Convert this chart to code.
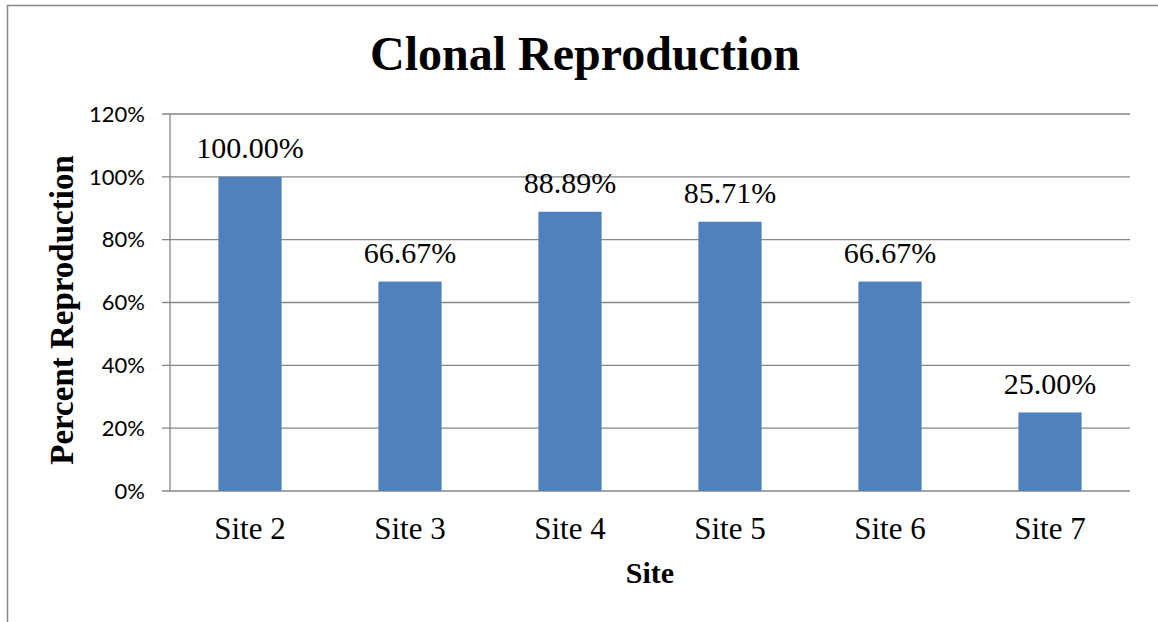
<!DOCTYPE html>
<html>
<head>
<meta charset="utf-8">
<script src="https://cdn.jsdelivr.net/npm/d3@7"></script>
<style>
  body { margin: 0; background: #fff; }
</style>
</head>
<body>
<div id="chart"></div>
<script>
// chart data
const sites = ['Site 2', 'Site 3', 'Site 4', 'Site 5', 'Site 6', 'Site 7']
const reproduction = [1.0, 0.6667, 0.8889, 0.8571, 0.6667, 0.25]
const yTicks = [0, 0.2, 0.4, 0.6, 0.8, 1.0, 1.2]

const width = 1158
const height = 622
const margin = { top: 114, right: 28, bottom: 131, left: 170 }
const serif = '"Liberation Serif", "Times New Roman", serif'
const gridColor = '#868686'

const svg = d3
  .select('#chart')
  .append('svg')
  .attr('width', width)
  .attr('height', height)

// outer frame (only top and left edges fall inside the picture)
svg
  .append('rect')
  .attr('x', 7.5)
  .attr('y', 5.5)
  .attr('width', width + 20)
  .attr('height', height + 20)
  .attr('fill', 'none')
  .attr('stroke', gridColor)
  .attr('stroke-width', 1.5)

const x = d3
  .scaleBand()
  .domain(sites)
  .range([margin.left, width - margin.right])
  .paddingInner(0.605)
  .paddingOuter(0.3025)

const y = d3
  .scaleLinear()
  .domain([0, 1.2])
  .range([height - margin.bottom, margin.top])

// gridlines
svg
  .append('g')
  .selectAll('line')
  .data(yTicks)
  .join('line')
  .attr('x1', margin.left - 8)
  .attr('x2', width - margin.right)
  .attr('y1', (d) => y(d))
  .attr('y2', (d) => y(d))
  .attr('stroke', gridColor)
  .attr('stroke-width', 1.3)

// y axis line
svg
  .append('line')
  .attr('x1', margin.left)
  .attr('x2', margin.left)
  .attr('y1', y(1.2))
  .attr('y2', y(0))
  .attr('stroke', gridColor)
  .attr('stroke-width', 1.3)

// y tick labels
svg
  .append('g')
  .selectAll('text')
  .data(yTicks)
  .join('text')
  .attr('x', margin.left - 25)
  .attr('y', (d) => y(d))
  .attr('dy', '0.35em')
  .attr('text-anchor', 'end')
  .style('font-family', 'Lato, "Open Sans", sans-serif')
  .style('font-size', '22px')
  .text(d3.format('.0%'))

// bars
svg
  .append('g')
  .selectAll('rect')
  .data(reproduction)
  .join('rect')
  .attr('x', (d, i) => x(sites[i]))
  .attr('y', (d) => y(d))
  .attr('width', x.bandwidth())
  .attr('height', (d) => y(0) - y(d))
  .attr('fill', '#4F81BD')

// bar value labels
svg
  .append('g')
  .selectAll('text')
  .data(reproduction)
  .join('text')
  .attr('x', (d, i) => x(sites[i]) + x.bandwidth() / 2)
  .attr('y', (d) => y(d) - 18.5)
  .attr('text-anchor', 'middle')
  .style('font-family', serif)
  .style('font-size', '30px')
  .text(d3.format('.2%'))

// x category labels
svg
  .append('g')
  .selectAll('text')
  .data(sites)
  .join('text')
  .attr('x', (d) => x(d) + x.bandwidth() / 2)
  .attr('y', y(0) + 48)
  .attr('text-anchor', 'middle')
  .style('font-family', serif)
  .style('font-size', '31px')
  .text((d) => d)

// title
svg
  .append('text')
  .attr('x', 585)
  .attr('y', 70)
  .attr('text-anchor', 'middle')
  .style('font-family', serif)
  .style('font-size', '48px')
  .style('font-weight', 'bold')
  .text('Clonal Reproduction')

// axis titles
svg
  .append('text')
  .attr('x', (margin.left + width - margin.right) / 2)
  .attr('y', 583)
  .attr('text-anchor', 'middle')
  .style('font-family', serif)
  .style('font-size', '30px')
  .style('font-weight', 'bold')
  .text('Site')

svg
  .append('text')
  .attr('transform', 'translate(73,310) rotate(-90)')
  .attr('text-anchor', 'middle')
  .style('font-family', serif)
  .style('font-size', '33px')
  .style('font-weight', 'bold')
  .text('Percent Reproduction')
</script>
</body>
</html>
